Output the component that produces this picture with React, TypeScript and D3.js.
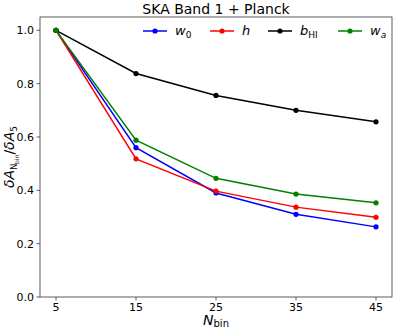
import React from 'react';
import * as d3 from 'd3';

// N_bin values on the x axis and the ratio dA_Nbin / dA_5 for each parameter
const nbins = [5, 15, 25, 35, 45];
const w0 = [1.0, 0.56, 0.39, 0.31, 0.263];
const h = [1.0, 0.518, 0.397, 0.337, 0.299];
const bHI = [1.0, 0.838, 0.756, 0.7, 0.657];
const wa = [1.0, 0.588, 0.445, 0.386, 0.353];
const yTicks = [0.0, 0.2, 0.4, 0.6, 0.8, 1.0];

const series = [
  { key: 'w0', values: w0, color: '#0000ff' },
  { key: 'h', values: h, color: '#ff0000' },
  { key: 'bHI', values: bHI, color: '#000000' },
  { key: 'wa', values: wa, color: '#008000' },
];

const W = 399, H = 331;
const m = { left: 40, right: 7, top: 17, bottom: 34 };
const font = 'DejaVu Sans, sans-serif';

function LegendLabel({ k }: { k: string }) {
  if (k === 'w0') return <tspan fontStyle="italic">w<tspan fontStyle="normal" fontSize="9" dy="3">0</tspan></tspan>;
  if (k === 'h') return <tspan fontStyle="italic">h</tspan>;
  if (k === 'bHI') return <tspan fontStyle="italic">b<tspan fontStyle="normal" fontSize="9" dy="3">HI</tspan></tspan>;
  return <tspan fontStyle="italic">w<tspan fontSize="9" dy="3">a</tspan></tspan>;
}

export default function App() {
  const x = d3.scaleLinear().domain([3, 47]).range([m.left, W - m.right]);
  const y = d3.scaleLinear().domain([0, 1.05]).range([H - m.bottom, m.top]);
  const line = d3.line<number>()
    .x((_, i) => x(nbins[i]))
    .y((d) => y(d));

  const legendX = [143, 210, 268, 338];

  return (
    <svg width={W} height={H} style={{ position: 'absolute', left: 0, top: 0 }} fontFamily={font}>
      <rect width={W} height={H} fill="#fff" />
      <text x={(m.left + W - m.right) / 2} y={14} textAnchor="middle" fontSize={14}>SKA Band 1 + Planck</text>

      {series.map((s) => (
        <g key={s.key}>
          <path d={line(s.values) || ''} fill="none" stroke={s.color} strokeWidth={1.5} />
          {s.values.map((v, i) => (
            <circle key={i} cx={x(nbins[i])} cy={y(v)} r={2.6} fill={s.color} />
          ))}
        </g>
      ))}

      <rect x={m.left} y={m.top} width={W - m.right - m.left} height={H - m.bottom - m.top}
        fill="none" stroke="#333" strokeWidth={0.8} />

      {yTicks.map((t) => (
        <g key={t}>
          <line x1={m.left - 3.5} x2={m.left} y1={y(t)} y2={y(t)} stroke="#333" strokeWidth={0.8} />
          <text x={m.left - 6} y={y(t)} dy="0.35em" textAnchor="end" fontSize={11}>{t.toFixed(1)}</text>
        </g>
      ))}
      {nbins.map((t) => (
        <g key={t}>
          <line x1={x(t)} x2={x(t)} y1={H - m.bottom} y2={H - m.bottom + 3.5} stroke="#333" strokeWidth={0.8} />
          <text x={x(t)} y={H - m.bottom + 14} textAnchor="middle" fontSize={11}>{t}</text>
        </g>
      ))}

      <text x={(m.left + W - m.right) / 2} y={325} textAnchor="middle" fontSize={14}>
        <tspan fontStyle="italic">N</tspan><tspan fontSize={10} dy="2">bin</tspan>
      </text>

      <text transform={`translate(14, ${(m.top + H - m.bottom) / 2}) rotate(-90)`} textAnchor="middle" fontSize={14}>
        <tspan fontStyle="italic">δA</tspan>
        <tspan fontSize={8} dy="3">N</tspan><tspan fontSize={6} dy="2">bin</tspan>
        <tspan dy="-5">/</tspan><tspan fontStyle="italic">δA</tspan>
        <tspan fontSize={9} dy="3">5</tspan>
      </text>

      {series.map((s, i) => (
        <g key={s.key} transform={`translate(${legendX[i]}, 31)`}>
          <line x1={0} x2={24} y1={0} y2={0} stroke={s.color} strokeWidth={1.5} />
          <circle cx={12} cy={0} r={2.6} fill={s.color} />
          <text x={32} y={0} dy="0.3em" fontSize={13}><LegendLabel k={s.key} /></text>
        </g>
      ))}
    </svg>
  );
}
